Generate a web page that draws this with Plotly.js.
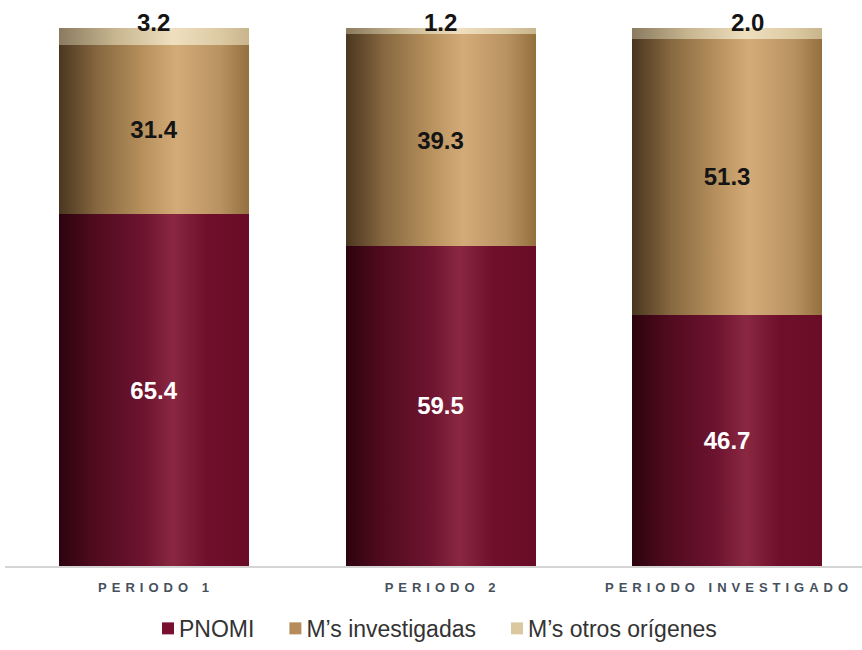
<!DOCTYPE html>
<html>
<head>
<meta charset="utf-8">
<script src="https://cdn.plot.ly/plotly-3.0.1.min.js"></script>
<style>
html,body{margin:0;padding:0;background:#fff;}
#chart{width:862px;height:650px;}
.xtick text{letter-spacing:5px;}
</style>
</head>
<body>
<div id="chart"></div>
<script>
var categories = ['PERIODO 1', 'PERIODO 2', 'PERIODO INVESTIGADO'];
var pnomi = [65.4, 59.5, 46.7];
var investigadas = [31.4, 39.3, 51.3];
var otros = [3.2, 1.2, 2.0];
var seriesNames = ['PNOMI', 'M\u2019s investigadas', 'M\u2019s otros or\u00edgenes'];

var FONT = 'Liberation Sans, Arial, sans-serif';
var valueFont = {family: FONT, size: 24};
var topLabelShift = [0, 0, 20];

var traces = [
  {type: 'bar', name: seriesNames[0], x: categories, y: pnomi,
   marker: {color: '#7a1030', line: {width: 0}},
   texttemplate: '<b>%{y:.1f}</b>', textposition: 'inside', insidetextanchor: 'middle',
   textfont: Object.assign({color: '#ffffff'}, valueFont), hoverinfo: 'none'},
  {type: 'bar', name: seriesNames[1], x: categories, y: investigadas,
   marker: {color: '#b58c5a', line: {width: 0}},
   texttemplate: '<b>%{y:.1f}</b>', textposition: 'inside', insidetextanchor: 'middle',
   textfont: Object.assign({color: '#141414'}, valueFont), hoverinfo: 'none'},
  {type: 'bar', name: seriesNames[2], x: categories, y: otros,
   marker: {color: '#dcc8a0', line: {width: 0}},
   textposition: 'none', hoverinfo: 'none'}
];

var annotations = categories.map(function(c, i){
  var total = Math.round((pnomi[i] + investigadas[i] + otros[i]) * 10) / 10;
  return {x: c, y: total, xref: 'x', yref: 'y',
          text: '<b>' + otros[i].toFixed(1) + '</b>', showarrow: false,
          yanchor: 'middle', yshift: 6, xshift: topLabelShift[i],
          font: {family: FONT, size: 24, color: '#141414'}};
});

var layout = {
  width: 862, height: 650,
  margin: {l: 5, r: 0, t: 28, b: 77},
  barmode: 'stack',
  bargap: 0.337,
  paper_bgcolor: '#ffffff', plot_bgcolor: '#ffffff',
  showlegend: true,
  annotations: annotations,
  legend: {orientation: 'h', x: 0.5, xanchor: 'center', y: -0.116, yanchor: 'middle',
           font: {family: FONT, size: 23, color: '#333333'},
           traceorder: 'normal'},
  xaxis: {type: 'category', range: [-0.520, 2.471], showline: true, linecolor: '#d4d4d4', linewidth: 2,
          ticks: '', showgrid: false, zeroline: false, ticklabelstandoff: 8, ticklabelshift: 2,
          tickfont: {family: FONT, size: 13, color: '#46505c', weight: 'bold'}},
  yaxis: {range: [0, 100], visible: false, showgrid: false, zeroline: false}
};

Plotly.newPlot('chart', traces, layout, {displayModeBar: false, staticPlot: true}).then(function(gd){
  var svg = gd.querySelector('svg.main-svg');
  var ns = 'http://www.w3.org/2000/svg';
  var defs = document.createElementNS(ns, 'defs');
  var grads = [
    [[0,'#2c030e'],[0.18,'#4f0a1e'],[0.45,'#6e1430'],[0.6,'#8a2842'],[0.78,'#6f0f2b'],[1,'#6a0c27']],
    [[0,'#4a3620'],[0.2,'#86673f'],[0.45,'#b8925e'],[0.62,'#d3ab78'],[0.85,'#b99262'],[1,'#94703f']],
    [[0,'#8a7b60'],[0.3,'#c8b690'],[0.6,'#efdfbf'],[0.85,'#dccaa3'],[1,'#c9b48b']]
  ];
  grads.forEach(function(stops, i){
    var g = document.createElementNS(ns, 'linearGradient');
    g.setAttribute('id', 'bargrad' + i);
    g.setAttribute('x1', '0'); g.setAttribute('x2', '1');
    g.setAttribute('y1', '0'); g.setAttribute('y2', '0');
    stops.forEach(function(s){
      var st = document.createElementNS(ns, 'stop');
      st.setAttribute('offset', s[0]);
      st.setAttribute('stop-color', s[1]);
      g.appendChild(st);
    });
    defs.appendChild(g);
  });
  svg.insertBefore(defs, svg.firstChild);
  gd.querySelectorAll('.barlayer .trace').forEach(function(t, i){
    t.querySelectorAll('.point path').forEach(function(p){
      p.style.fill = 'url(#bargrad' + i + ')';
    });
  });
  // tighten swatch-label gap and widen spacing between legend entries
  gd.querySelectorAll('.legend .legendtext').forEach(function(t){
    t.setAttribute('x', 31);
  });
  var items = gd.querySelectorAll('.legend .traces');
  var extra = 7, n = items.length;
  items.forEach(function(g, i){
    var tf = g.getAttribute('transform') || '';
    var m = tf.match(/translate\(([-\d.]+)[ ,]*([-\d.]*)\)/);
    if (m) {
      var tx = parseFloat(m[1]) + extra * i - extra * (n - 1) / 2 + 6;
      var ty = m[2] ? parseFloat(m[2]) : 0;
      g.setAttribute('transform', 'translate(' + tx + ',' + ty + ')');
    }
  });
});
</script>
</body>
</html>
